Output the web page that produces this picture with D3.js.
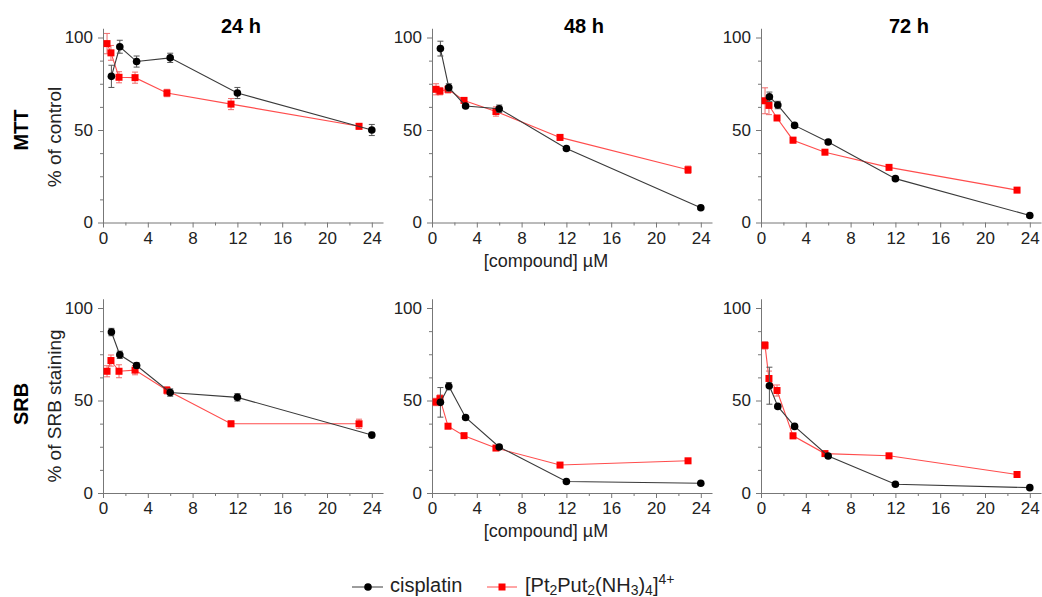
<!DOCTYPE html>
<html>
<head>
  <meta charset="utf-8">
  <script src="https://d3js.org/d3.v7.min.js"></script>
  <style>
    body { margin: 0; background: #fff; }
    svg text { font-family: "Liberation Sans", Arial, sans-serif; }
    .axis path, .axis line { stroke: #777; stroke-width: 1px; }
    .axis text { font-size: 17px; fill: #222; }
  </style>
</head>
<body>
  <svg id="chart" width="1042" height="597"></svg>
  <script>
    // concentrations (µM)
    var cisDose = [0.75, 1.5, 3, 6, 12, 24];
    var ptDose = [0.36, 0.71, 1.43, 2.86, 5.71, 11.43, 22.86];

    var times = ["24 h", "48 h", "72 h"];
    var assays = ["MTT", "SRB"];
    var yTitles = ["% of control", "% of SRB staining"];

    // MTT, % of control
    var mtt24Cis = [79, 95, 87, 89, 70, 50];
    var mtt24CisErr = [6, 3.5, 3, 2.5, 3, 3];
    var mtt24Pt = [96.7, 91.7, 78.5, 78.3, 70, 64, 52];
    var mtt24PtErr = [5.5, 4, 3, 3, 2, 3, 1.5];

    var mtt48Cis = [94, 73, 63, 61.5, 40, 8];
    var mtt48CisErr = [4, 2, 1, 2, 1, 1];
    var mtt48Pt = [72, 71, 72, 66, 60, 46, 28.5];
    var mtt48PtErr = [3, 2, 2, 1, 2.5, 1.5, 2];

    var mtt72Cis = [68, 63.5, 52.5, 43.5, 23.7, 3.8];
    var mtt72CisErr = [2.5, 2, 1, 1, 1, 1];
    var mtt72Pt = [65.8, 63.3, 56.5, 44.5, 38, 29.8, 17.5];
    var mtt72PtErr = [7, 5, 1, 1.5, 1, 1, 1];

    // SRB, % of SRB staining
    var srb24Cis = [87, 74.7, 68.9, 54.3, 51.7, 31.3];
    var srb24CisErr = [2, 2, 1.5, 2, 2, 1.5];
    var srb24Pt = [65.8, 71.6, 65.8, 66.4, 55.5, 37.4, 37.4];
    var srb24PtErr = [3, 3, 3.5, 2.5, 2, 1.5, 2.5];

    var srb48Cis = [49, 57.7, 40.8, 24.9, 6.2, 5.3];
    var srb48CisErr = [8, 2, 1, 1, 0.5, 0.5];
    var srb48Pt = [49.2, 51, 36.1, 31, 24.3, 15.1, 17.4];
    var srb48PtErr = [2, 2, 1, 1, 1, 1, 1];

    var srb72Cis = [58, 46.8, 36, 20, 4.7, 2.9];
    var srb72CisErr = [10, 1, 1, 1, 0.5, 0.5];
    var srb72Pt = [79.8, 61.9, 55.4, 30.9, 21.3, 20.1, 10];
    var srb72PtErr = [2, 4, 3, 1.5, 1, 1, 1];

    var panels = [
      [[mtt24Cis, mtt24CisErr, mtt24Pt, mtt24PtErr],
       [mtt48Cis, mtt48CisErr, mtt48Pt, mtt48PtErr],
       [mtt72Cis, mtt72CisErr, mtt72Pt, mtt72PtErr]],
      [[srb24Cis, srb24CisErr, srb24Pt, srb24PtErr],
       [srb48Cis, srb48CisErr, srb48Pt, srb48PtErr],
       [srb72Cis, srb72CisErr, srb72Pt, srb72PtErr]]
    ];

    // layout
    var colX = [103, 432, 761];
    var rowY0 = [222.5, 493];
    var titleX = [241, 584, 909];
    var rowLabelY = [130, 404];
    var yTitleY = [137, 406];
    var plotW = 280, unit = 1.85;
    var plotH = unit * 105;

    var x = d3.scaleLinear().domain([0, 25]).range([0, plotW]);
    var y = d3.scaleLinear().domain([0, 105]).range([plotH, 0]);

    var svg = d3.select('#chart');

    var black = "#000", blackLine = "#3a3a3a", blackErr = "#555";
    var red = "#ff0000", redLine = "#ff4d4d", redErr = "#f06b6b";

    function series(g, xs, ys, errs, isRed) {
      var pts = xs.map(function (d, i) { return { x: d, y: ys[i], e: errs[i] }; });
      var line = d3.line().x(function (d) { return x(d.x); }).y(function (d) { return y(d.y); });
      g.append('path').datum(pts)
        .attr('d', line)
        .attr('fill', 'none')
        .attr('stroke', isRed ? redLine : blackLine)
        .attr('stroke-width', 1.1);

      var eb = g.append('g').attr('stroke', isRed ? redErr : blackErr).attr('stroke-width', 1);
      pts.forEach(function (d) {
        var cx = x(d.x);
        eb.append('line').attr('x1', cx).attr('x2', cx).attr('y1', y(d.y - d.e)).attr('y2', y(d.y + d.e));
        eb.append('line').attr('x1', cx - 3).attr('x2', cx + 3).attr('y1', y(d.y - d.e)).attr('y2', y(d.y - d.e));
        eb.append('line').attr('x1', cx - 3).attr('x2', cx + 3).attr('y1', y(d.y + d.e)).attr('y2', y(d.y + d.e));
      });

      if (isRed) {
        g.selectAll(null).data(pts).enter().append('rect')
          .attr('x', function (d) { return x(d.x) - 3.5; })
          .attr('y', function (d) { return y(d.y) - 3.5; })
          .attr('width', 7).attr('height', 7)
          .attr('fill', red);
      } else {
        g.selectAll(null).data(pts).enter().append('circle')
          .attr('cx', function (d) { return x(d.x); })
          .attr('cy', function (d) { return y(d.y); })
          .attr('r', 3.8)
          .attr('fill', black);
      }
    }

    assays.forEach(function (assay, r) {
      times.forEach(function (t, c) {
        var g = svg.append('g')
          .attr('transform', 'translate(' + colX[c] + ',' + (rowY0[r] - plotH) + ')');

        // minor ticks
        g.append('g').attr('class', 'axis')
          .call(d3.axisLeft(y).tickValues([12.5, 25, 37.5, 62.5, 75, 87.5]).tickSize(3).tickFormat(''))
          .select('.domain').remove();
        g.append('g').attr('class', 'axis')
          .attr('transform', 'translate(0,' + plotH + ')')
          .call(d3.axisBottom(x).tickValues([2, 6, 10, 14, 18, 22]).tickSize(3).tickFormat(''))
          .select('.domain').remove();

        g.append('g').attr('class', 'axis')
          .call(d3.axisLeft(y).tickValues([0, 50, 100]).tickSize(5).tickSizeOuter(0).tickPadding(5));
        g.append('g').attr('class', 'axis')
          .attr('transform', 'translate(0,' + plotH + ')')
          .call(d3.axisBottom(x).tickValues([0, 4, 8, 12, 16, 20, 24]).tickSize(5).tickSizeOuter(0).tickPadding(4));

        var d = panels[r][c];
        series(g, ptDose, d[2], d[3], true);
        series(g, cisDose, d[0], d[1], false);

        if (c === 1) {
          g.append('text')
            .attr('x', 114).attr('y', plotH + 44)
            .attr('text-anchor', 'middle')
            .attr('font-size', 18).attr('fill', '#222')
            .text('[compound] µM');
        }
        if (r === 0) {
          svg.append('text')
            .attr('x', titleX[c]).attr('y', 33)
            .attr('text-anchor', 'middle')
            .attr('font-size', 20).attr('font-weight', 'bold')
            .text(t);
        }
      });

      svg.append('text')
        .attr('transform', 'translate(28,' + rowLabelY[r] + ') rotate(-90)')
        .attr('text-anchor', 'middle')
        .attr('font-size', 20).attr('font-weight', 'bold')
        .text(assay);
      svg.append('text')
        .attr('transform', 'translate(61,' + yTitleY[r] + ') rotate(-90)')
        .attr('text-anchor', 'middle')
        .attr('font-size', 19).attr('fill', '#222')
        .text(yTitles[r]);
    });

    // legend
    var lg = svg.append('g');
    lg.append('line').attr('x1', 352).attr('x2', 383).attr('y1', 587).attr('y2', 587).attr('stroke', blackLine);
    lg.append('circle').attr('cx', 368).attr('cy', 587).attr('r', 3.8).attr('fill', black);
    lg.append('text').attr('x', 390).attr('y', 592).attr('font-size', 20).attr('fill', '#222').text('cisplatin');
    lg.append('line').attr('x1', 487).attr('x2', 517).attr('y1', 587).attr('y2', 587).attr('stroke', redLine);
    lg.append('rect').attr('x', 498.5).attr('y', 583.5).attr('width', 7).attr('height', 7).attr('fill', red);
    var lt = lg.append('text').attr('x', 525).attr('y', 592).attr('font-size', 20).attr('fill', '#222');
    lt.append('tspan').text('[Pt');
    lt.append('tspan').attr('font-size', 14).attr('dy', 3).text('2');
    lt.append('tspan').attr('dy', -3).text('Put');
    lt.append('tspan').attr('font-size', 14).attr('dy', 3).text('2');
    lt.append('tspan').attr('dy', -3).text('(NH');
    lt.append('tspan').attr('font-size', 14).attr('dy', 3).text('3');
    lt.append('tspan').attr('dy', -3).text(')');
    lt.append('tspan').attr('font-size', 14).attr('dy', 3).text('4');
    lt.append('tspan').attr('dy', -3).text(']');
    lt.append('tspan').attr('font-size', 14).attr('dy', -8).text('4+');
  </script>
</body>
</html>
